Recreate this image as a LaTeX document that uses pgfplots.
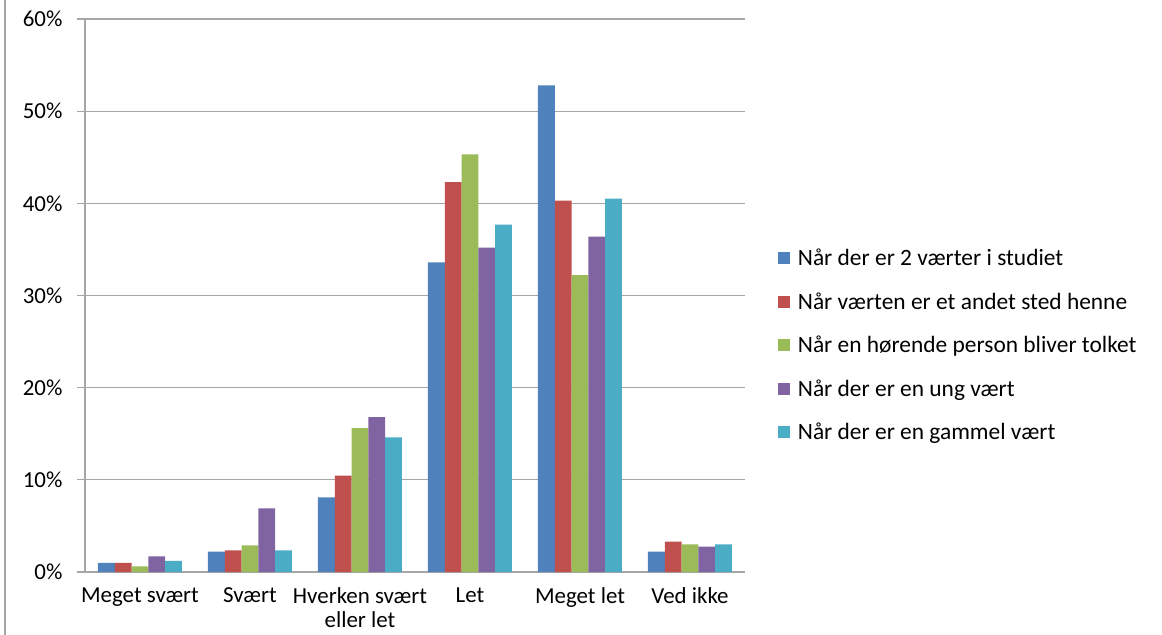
\documentclass[border=0pt]{standalone}
\usepackage{fontspec}
\setmainfont{Carlito}
\usepackage{pgfplots}
\pgfplotsset{compat=1.18}

\definecolor{sblue}{HTML}{4F81BD}
\definecolor{sred}{HTML}{C0504D}
\definecolor{sgreen}{HTML}{9BBB59}
\definecolor{spurple}{HTML}{8064A2}
\definecolor{scyan}{HTML}{4BACC6}
\definecolor{gridgray}{HTML}{A6A6A6}

\begin{document}
\begin{tikzpicture}
\useasboundingbox (-85bp,-63bp) rectangle (1077bp,572bp);
\draw[gridgray, line width=1.2bp] (-80bp,-63bp) -- (-80bp,572bp);
\begin{axis}[
  scale only axis, width=660bp, height=553bp,
  at={(0,0)}, anchor=south west,
  ybar=0pt, bar width=16.8bp,
  xmin=-0.5, xmax=5.5, ymin=0, ymax=60,
  xtick={0,1,2,3,4,5},
  xticklabels={Meget svært, Svært, {Hverken svært\\eller let}, Let, Meget let, Ved ikke},
  xticklabel style={align=center, font=\fontsize{23}{24}\selectfont, yshift=-4bp},
  major x tick style={draw=none},
  ytick={0,10,...,60},
  yticklabel={\pgfmathprintnumber{\tick}\%},
  yticklabel style={font=\fontsize{23}{24}\selectfont, xshift=-11bp},
  /pgf/number format/assume math mode=true,
  tick align=outside, major tick length=8bp,
  ytick style={gridgray, line width=1.2bp},
  ymajorgrids, grid style={gridgray, line width=1.2bp},
  axis x line*=bottom, axis y line*=left,
  axis line style={gridgray, line width=1.2bp},
  legend style={draw=none, at={(1.045,0.41)}, anchor=west,
    font=\fontsize{23.5}{24}\selectfont, row sep=21.5bp, cells={anchor=west}},
  legend image code/.code={\fill[#1] (0bp,-6bp) rectangle (12bp,6bp);},
]
\addplot[fill=sblue, draw=none] coordinates {(0,1.0)(1,2.2)(2,8.1)(3,33.6)(4,52.8)(5,2.2)};
\addplot[fill=sred, draw=none] coordinates {(0,1.0)(1,2.35)(2,10.45)(3,42.3)(4,40.3)(5,3.3)};
\addplot[fill=sgreen, draw=none] coordinates {(0,0.6)(1,2.9)(2,15.6)(3,45.3)(4,32.2)(5,3.0)};
\addplot[fill=spurple, draw=none] coordinates {(0,1.7)(1,6.9)(2,16.8)(3,35.2)(4,36.4)(5,2.75)};
\addplot[fill=scyan, draw=none] coordinates {(0,1.2)(1,2.35)(2,14.6)(3,37.7)(4,40.5)(5,3.0)};
\legend{\hspace{6bp}Når der er 2 værter i studiet, \hspace{6bp}Når værten er et andet sted henne, \hspace{6bp}Når en hørende person bliver tolket, \hspace{6bp}Når der er en ung vært, \hspace{6bp}Når der er en gammel vært}
\end{axis}
\end{tikzpicture}
\end{document}
